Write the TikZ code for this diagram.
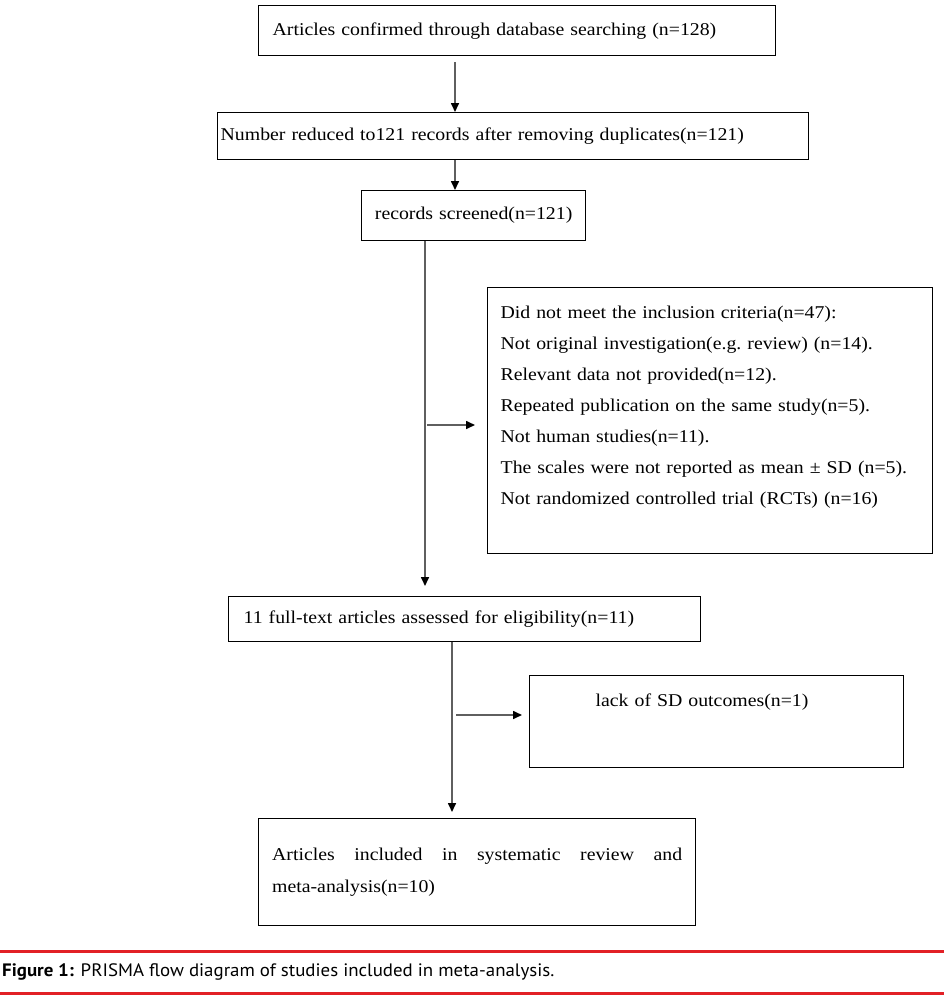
\documentclass[tikz,border=0pt]{standalone}
\usepackage{fontspec}
\setmainfont{Liberation Serif}[FakeStretch=1.1]
\newfontfamily\capfont{PT Sans}[FakeStretch=1.05]
\usetikzlibrary{arrows.meta,calc}
\definecolor{capred}{RGB}{226,32,38}
\definecolor{linegray}{RGB}{95,95,95}
\begin{document}
\begin{tikzpicture}[x=1pt,y=-1pt,
 box/.style={draw=black,line width=1.3pt,anchor=north west,inner xsep=0pt,inner ysep=0pt,
   font=\fontsize{18}{20}\selectfont},
 conn/.style={draw=linegray,line width=1.6pt,-{Triangle[length=9pt,width=8pt,color=black]}},
 capline/.style={draw=capred,line width=3pt}]
\useasboundingbox (0,0) rectangle (944,999);

\node[box,minimum width=517pt,minimum height=50pt,text width=489pt,align=left] (b1) at (258,5)
  {Articles confirmed through database searching (n=128)};
\node[box,minimum width=591pt,minimum height=47pt,text width=585pt,align=left] (b2) at (217,112)
  {Number reduced to121 records after removing duplicates(n=121)};
\node[box,minimum width=224pt,minimum height=50pt,text width=214pt,align=center] (b3) at (361,190)
  {records screened(n=121)};
\node[box,minimum width=445pt,minimum height=266pt,text width=419pt,align=left,
  font=\fontsize{18}{31}\selectfont] (ex) at (487,287)
  {Did not meet the inclusion criteria(n=47):\\
   Not original investigation(e.g.\ review) (n=14).\\
   Relevant data not provided(n=12).\\
   Repeated publication on the same study(n=5).\\
   Not human studies(n=11).\\
   The scales were not reported as mean ± SD (n=5).\\
   Not randomized controlled trial (RCTs) (n=16)\\
   \mbox{}};
\node[box,minimum width=472pt,minimum height=45pt,text width=442pt,align=left] (b4) at (228,596)
  {11 full-text articles assessed for eligibility(n=11)};
\node[box,minimum width=374pt,minimum height=92pt,text width=242pt,align=left,
  font=\fontsize{18}{42}\selectfont] (rb2) at (529,675)
  {lack of SD outcomes(n=1)\\ \mbox{}};
\node[box,minimum width=437pt,minimum height=107pt,text width=410pt,align=justify,
  font=\fontsize{18}{32}\selectfont] (b5) at (258,818)
  {Articles included in systematic review and\linebreak meta-analysis(n=10)};

\coordinate (s1) at (455,62);
\draw[conn] (s1) -- (s1 |- b2.north);
\draw[conn] (b2.south -| s1) -- (b3.north -| s1);
\coordinate (x1) at (425,0);
\draw[conn,shorten >=10pt] (b3.south -| x1) -- (b4.north -| x1);
\coordinate (j1) at (427,425);
\draw[conn,shorten >=12pt] (j1) -- (j1 -| ex.west);
\coordinate (x2) at (452,0);
\draw[conn,shorten >=6pt] (b4.south -| x2) -- (b5.north -| x2);
\coordinate (j2) at (456,715);
\draw[conn,shorten >=7pt] (j2) -- (j2 -| rb2.west);

\draw[capline] (0,951) -- (944,951);
\draw[capline] (0,993) -- (944,993);
\node[anchor=west,inner sep=0pt,font=\capfont\fontsize{18}{20}\selectfont] (cap) at (2,972)
  {\textbf{Figure 1:} PRISMA flow diagram of studies included in meta-analysis.};
\end{tikzpicture}
\end{document}
